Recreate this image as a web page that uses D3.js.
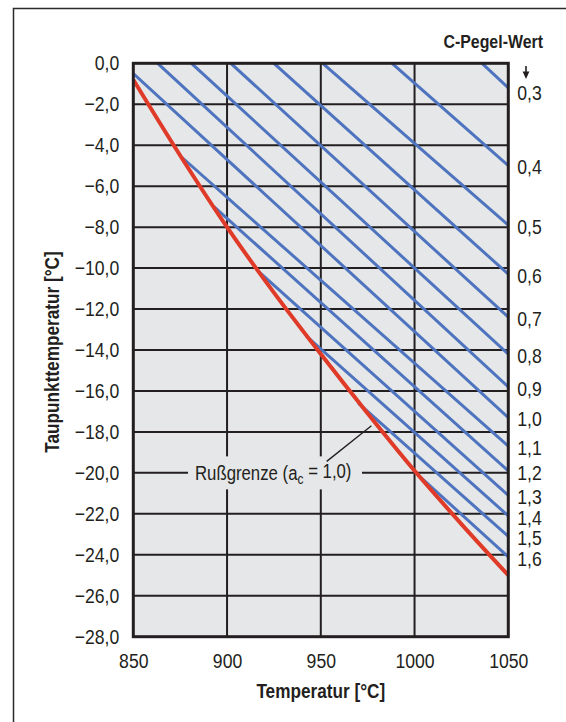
<!DOCTYPE html>
<html lang="de">
<head>
<meta charset="utf-8">
<title>Rußgrenze und C-Pegel</title>
<script src="https://cdn.jsdelivr.net/npm/d3@7"></script>
<style>
  html, body { margin: 0; padding: 0; background: #ffffff; }
  svg { display: block; }
  text { font-family: "Liberation Sans", Arial, sans-serif; fill: #231f20; }
</style>
</head>
<body>
<div id="chart"></div>
<script>
// Temperaturachse (°C) und Taupunktachse (°C)
const xTicks = [850, 900, 950, 1000, 1050];
const yTicks = [0, -2, -4, -6, -8, -10, -12, -14, -16, -18, -20, -22, -24, -26, -28];

// Rußgrenze (a_c = 1,0): Taupunkt über der Temperatur
const rgTemp = [850, 875, 900, 925, 950, 975, 1000, 1025, 1050];
const rgDew  = [-0.8, -4.5, -8.0, -11.2, -14.2, -17.1, -19.9, -22.5, -25.0];

// Linien gleichen C-Pegels: Anfangspunkt (Temperatur, Taupunkt) und Taupunkt bei 1050 °C
const cLevel    = [0.3, 0.4, 0.5, 0.6, 0.7, 0.8, 0.9, 1.0, 1.1, 1.2, 1.3, 1.4, 1.5, 1.6];
const startTemp = [1036, 988, 951, 925, 902, 881, 863, 850, 876, 893, 916, 942, 970, 1003];
const startDew  = [0, 0, 0, 0, 0, 0, 0, -0.5, -4.6, -7.0, -10.1, -13.3, -16.6, -20.2];
const endTemp   = 1050;
const endDew    = [-1.2, -5.0, -7.9, -10.3, -12.4, -14.2, -15.8, -17.3, -18.7, -19.9, -21.1, -22.1, -23.1, -24.1];

const W = 566, H = 722;
const plot = { left: 133.3, right: 508.3, top: 63.3, bottom: 636.7 };
const INK = "#231f20", PANEL = "#e6e7e8";
const NARROW = 0.86;   // horizontale Stauchung für schmale Schrift

const de = d3.formatLocale({ decimal: ",", thousands: ".", grouping: [3], currency: ["", " €"], minus: "\u2212" });
const f1 = de.format(".1f");

const x = d3.scaleLinear().domain([850, 1050]).range([plot.left, plot.right]);
const y = d3.scaleLinear().domain([-28, 0]).range([plot.bottom, plot.top]);

// Text schmal laufen lassen: Ankerpunkt in eine Transformation verschieben und horizontal stauchen
function squeeze(sel, extra = "") {
  sel.each(function () {
    const el = d3.select(this);
    const tx = +el.attr("x") || 0, ty = +el.attr("y") || 0;
    el.attr("x", null).attr("y", null)
      .attr("transform", `translate(${tx},${ty}) ${extra} scale(${NARROW},1)`);
  });
}

const svg = d3.select("#chart").append("svg")
  .attr("width", W).attr("height", H);

// Rahmen um die Abbildung
svg.append("rect")
  .attr("x", 13.5).attr("y", 8.5)
  .attr("width", W + 20).attr("height", H + 20)
  .attr("fill", "none").attr("stroke", "#2b2b2b").attr("stroke-width", 1.5);

// Diagrammfläche
svg.append("rect")
  .attr("x", plot.left).attr("y", plot.top)
  .attr("width", plot.right - plot.left).attr("height", plot.bottom - plot.top)
  .attr("fill", PANEL);

svg.append("clipPath").attr("id", "plotclip").append("rect")
  .attr("x", plot.left).attr("y", plot.top)
  .attr("width", plot.right - plot.left).attr("height", plot.bottom - plot.top);

// Gitternetz
const grid = svg.append("g").attr("stroke", INK).attr("stroke-width", 2);
grid.selectAll("line.v").data(xTicks.slice(1, -1)).join("line")
  .attr("class", "v")
  .attr("x1", d => x(d)).attr("x2", d => x(d))
  .attr("y1", plot.top).attr("y2", plot.bottom);
grid.selectAll("line.h").data(yTicks.slice(1, -1)).join("line")
  .attr("class", "h")
  .attr("x1", plot.left).attr("x2", plot.right)
  .attr("y1", d => y(d)).attr("y2", d => y(d));

// Achsenbeschriftungen
const yAxis = d3.axisLeft(y).tickValues(yTicks).tickFormat(f1).tickSize(0).tickPadding(14);
svg.append("g").attr("transform", `translate(${plot.left},0)`).call(yAxis)
  .call(g => g.select(".domain").remove())
  .call(g => g.selectAll("text").attr("font-size", 20.5).attr("font-family", null).attr("fill", INK).call(squeeze));

const xAxis = d3.axisBottom(x).tickValues(xTicks).tickFormat(d3.format("d")).tickSize(0).tickPadding(17);
svg.append("g").attr("transform", `translate(0,${plot.bottom})`).call(xAxis)
  .call(g => g.select(".domain").remove())
  .call(g => g.selectAll("text").attr("font-size", 20.5).attr("font-family", null).attr("fill", INK).call(squeeze));

// C-Pegel-Linien
const lines = svg.append("g").attr("clip-path", "url(#plotclip)");
const lineGen = d3.line().x(d => x(d[0])).y(d => y(d[1]));
lines.selectAll("path.c").data(cLevel).join("path")
  .attr("class", "c")
  .attr("d", (d, i) => lineGen([[startTemp[i], startDew[i]], [endTemp, endDew[i]]]))
  .attr("fill", "none").attr("stroke", "#4f74bf").attr("stroke-width", 3);

// Rußgrenze
lines.append("path")
  .datum(rgTemp.map((t, i) => [t, rgDew[i]]))
  .attr("d", d3.line().x(d => x(d[0])).y(d => y(d[1])).curve(d3.curveMonotoneX))
  .attr("fill", "none").attr("stroke", "#df3b28").attr("stroke-width", 4);

// Plotrand
svg.append("rect")
  .attr("x", plot.left).attr("y", plot.top)
  .attr("width", plot.right - plot.left).attr("height", plot.bottom - plot.top)
  .attr("fill", "none").attr("stroke", INK).attr("stroke-width", 3);

// Beschriftung der C-Pegel am rechten Rand
const lbl = svg.append("g");
lbl.selectAll("text").data(cLevel).join("text")
  .attr("x", plot.right + 9)
  .attr("y", (d, i) => Math.max(y(endDew[i]) + 1.5, 93))
  .attr("dy", "0.35em")
  .attr("font-size", 20.5)
  .text(d => f1(d))
  .call(squeeze);

svg.append("text")
  .attr("x", 543).attr("y", 48)
  .attr("text-anchor", "end")
  .attr("font-size", 18.5).attr("font-weight", "bold")
  .text("C-Pegel-Wert")
  .call(squeeze);

// Pfeil unter "C-Pegel-Wert"
svg.append("line")
  .attr("x1", 526).attr("x2", 526).attr("y1", 66).attr("y2", 73)
  .attr("stroke", INK).attr("stroke-width", 1.6);
svg.append("path")
  .attr("d", "M522.6,71.5 L529.4,71.5 L526,79 Z")
  .attr("fill", INK);

// Achsentitel
svg.append("text")
  .attr("x", 320.8).attr("y", 698)
  .attr("text-anchor", "middle")
  .attr("font-size", 20).attr("font-weight", "bold")
  .text("Temperatur [°C]")
  .call(squeeze);

svg.append("text")
  .attr("x", 59).attr("y", 352)
  .attr("text-anchor", "middle")
  .attr("font-size", 20).attr("font-weight", "bold")
  .text("Taupunkttemperatur [°C]")
  .call(s => squeeze(s, "rotate(-90)"));

// Bezeichnung der Rußgrenze mit Hinweislinie
const ann = svg.append("g");
ann.append("rect")
  .attr("x", 188).attr("y", y(-20) - 16.5)
  .attr("width", 174).attr("height", 33)
  .attr("fill", PANEL);
ann.append("line")
  .attr("x1", 326.7).attr("y1", y(-20) - 11.5)
  .attr("x2", x(977)).attr("y2", y(-17.7))
  .attr("stroke", INK).attr("stroke-width", 1.3);
const t = ann.append("text")
  .attr("x", 195).attr("y", y(-20))
  .attr("dy", "0.35em")
  .attr("font-size", 19.5);
t.append("tspan").text("Rußgrenze (a");
t.append("tspan").attr("font-size", 14).attr("dy", "0.3em").text("c");
t.append("tspan").attr("dy", "-0.3em").text(" = 1,0)");
t.call(squeeze);
</script>
</body>
</html>
